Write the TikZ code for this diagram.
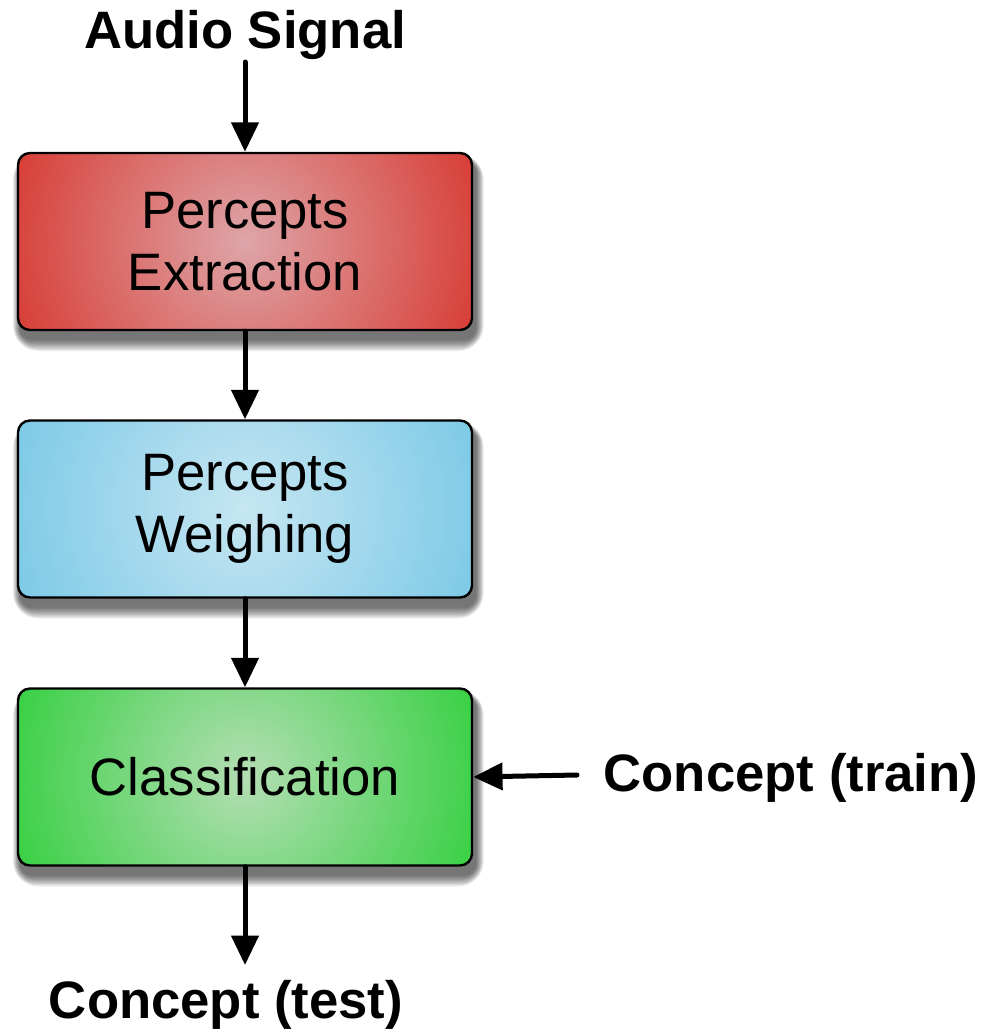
\documentclass[tikz,border=0pt]{standalone}
\usepackage{fontspec}
\setmainfont{Liberation Sans}
\usetikzlibrary{arrows.meta,backgrounds}
\definecolor{redC}{RGB}{222,165,168}
\definecolor{redE}{RGB}{214,38,28}
\definecolor{bluC}{RGB}{198,230,242}
\definecolor{bluE}{RGB}{108,195,228}
\definecolor{grnC}{RGB}{180,222,180}
\definecolor{grnE}{RGB}{28,205,42}
\tikzset{
  stagebox/.style 2 args={draw=black, line width=1.8pt, rounded corners=9pt,
    minimum width=340.5pt, minimum height=132.75pt, align=center,
    fill=#2, inner sep=0pt,
    font=\fontsize{39.5}{46.5}\selectfont,
    path picture={\shade[inner color=#1, outer color=#2]
      (path picture bounding box.center) circle (225pt);}},
  lbl/.style={font=\fontsize{39.5}{46.5}\selectfont\bfseries, inner sep=0pt},
  arr/.style={line width=3.75pt, line cap=round, -{Triangle[length=22pt,width=20pt]}},
}
\begin{document}
\begin{tikzpicture}[x=0.75pt,y=-0.75pt]
\useasboundingbox (0,0) rectangle (985,1033);
\node[lbl] (audio) at (245,35) {Audio Signal};
\node[lbl] (train) at (791,778) {Concept (train)};
\node[lbl] (test) at (226,1005) {Concept (test)};
\coordinate (a0) at (245,62);
\coordinate (t0) at (577,775);
\coordinate (e0) at (245,965);
\node[stagebox={redC}{redE}] (r) at (245,241.5) {Percepts\\Extraction};
\node[stagebox={bluC}{bluE}] (b) at (245,509) {Percepts\\Weighing};
\node[stagebox={grnC}{grnE}] (g) at (245,777) {Classification};
\begin{scope}[on background layer]
\foreach \n in {r,b,g}{
  \foreach \k in {0,1.5,...,13.5}{
    \fill[black, opacity=0.075, rounded corners=9pt+\k*0.75pt]
      ([shift={(3-0.5*\k,9-0.5*\k)}]\n.north west) rectangle ([shift={(3+0.55*\k,9+0.8*\k)}]\n.south east);
  }
}
\end{scope}
\draw[arr] (a0) -- (r.north);
\draw[arr] (r.south) -- (b.north);
\draw[arr] (b.south) -- (g.north);
\draw[arr] (t0) -- (g.east);
\draw[arr] (g.south) -- (e0);
\end{tikzpicture}
\end{document}
